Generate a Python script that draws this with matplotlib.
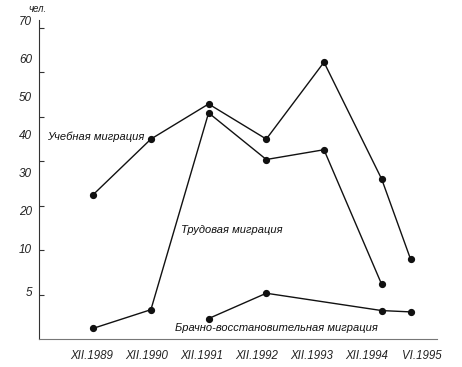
import numpy as np
import matplotlib
matplotlib.use("Agg")
import matplotlib.pyplot as plt

plt.rcParams['font.family'] = ['Liberation Sans', 'DejaVu Sans']

# годы наблюдений (VI.1995 = середина года)
years_study = [1989, 1990, 1991, 1992, 1993, 1994, 1994.5]
study = [32.5, 45.0, 52.9, 45.0, 62.3, 36.0, 18.0]

years_labour = [1989, 1990, 1991, 1992, 1993, 1994]
labour = [2.4, 6.6, 50.9, 40.4, 42.6, 12.3]

years_marriage = [1991, 1992, 1994, 1994.5]
marriage = [4.6, 10.3, 6.4, 6.1]

x_labels = ['XII.1989', 'XII.1990', 'XII.1991', 'XII.1992', 'XII.1993', 'XII.1994', 'VI.1995']
y_labels = ['70', '60', '50', '40', '30', '20', '10', '5']

fig = plt.figure(figsize=(4.62, 3.67), dpi=100)
ax = fig.add_axes([0.0844, 0.0763, 0.8616, 0.8692])

for xs, ys in [(years_study, study), (years_labour, labour), (years_marriage, marriage)]:
    ax.plot(xs, ys, color='#111111', lw=1.0, marker='o', ms=4.2, clip_on=False)

ax.set_xlim(1988.06, 1994.96)
ax.set_ylim(0, 70)

ax.spines['top'].set_visible(False)
ax.spines['right'].set_visible(False)
ax.spines['left'].set_color('#333333')
ax.spines['bottom'].set_color('#777777')

# подписи оси X расставлены равномерно, как в оригинале
ax.set_xticks(np.linspace(1988.98, 1994.7, len(x_labels)))
ax.set_xticklabels(x_labels, fontsize=8.3, style='italic', color='#222222')
ax.tick_params(axis='x', length=0, pad=8)

# подписи оси Y тоже идут своим шагом, штрихи — отдельно
ax.set_yticks(np.linspace(71.8, 20.4, 7).tolist() + [10.8])
ax.set_yticklabels(y_labels, fontsize=8.5, style='italic', color='#222222')
ax.tick_params(axis='y', which='major', length=0, pad=5)
ax.set_yticks([10, 20, 30, 40, 50, 60, 70], minor=True)
ax.tick_params(axis='y', which='minor', direction='in', length=3.5, width=0.8, color='#333333')

ax.text(-0.028, 1.025, 'чел.', transform=ax.transAxes, fontsize=7, style='italic', color='#222222')

ax.text(1988.2, 45.6, 'Учебная миграция', fontsize=8, style='italic', color='#111111', va='center')
ax.text(1990.53, 24.6, 'Трудовая миграция', fontsize=8, style='italic', color='#111111', va='center')
ax.text(1990.42, 2.4, 'Брачно-восстановительная миграция', fontsize=8, style='italic', color='#111111', va='center')

fig.savefig('out.png', dpi=100)
